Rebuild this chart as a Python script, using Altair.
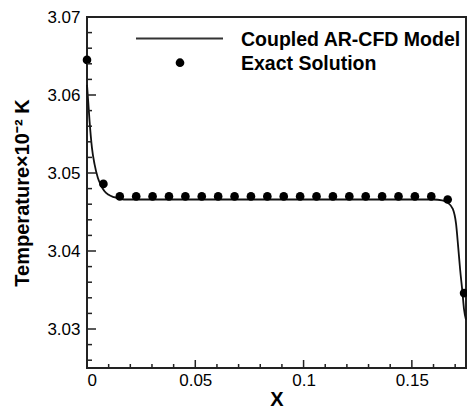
import altair as alt
import pandas as pd

# ---- data ----
line_x = [0.0, 0.0006, 0.0012, 0.0023, 0.0035, 0.005, 0.0065, 0.008, 0.010, 0.0125,
          0.015, 0.017, 0.020, 0.160, 0.164, 0.1665, 0.1689, 0.1704, 0.1714, 0.1723,
          0.1734, 0.1741, 0.175]
line_y = [3.0613, 3.0590, 3.0566, 3.0532, 3.0511, 3.0494, 3.0484, 3.0477, 3.0472, 3.0469,
          3.0467, 3.0466, 3.0466, 3.0466, 3.0465, 3.0462, 3.0454, 3.0435, 3.0405, 3.0376,
          3.0346, 3.0325, 3.0312]

exact_x = [0.0, 0.00757, 0.01514, 0.02271, 0.03028, 0.03785, 0.04542, 0.05299, 0.06056,
           0.06813, 0.0757, 0.08327, 0.09084, 0.09841, 0.10598, 0.11355, 0.12112, 0.12869,
           0.13626, 0.14383, 0.1514, 0.15897, 0.16654, 0.17411]
exact_y = [3.0645, 3.0486, 3.0470, 3.0470, 3.0470, 3.0470, 3.0470, 3.0470, 3.0470,
           3.0470, 3.0470, 3.0470, 3.0470, 3.0470, 3.0470, 3.0470, 3.0470, 3.0470,
           3.0470, 3.0470, 3.0470, 3.0470, 3.0466, 3.0346]

x_major = [0, 0.05, 0.1, 0.15]
x_minor = [0.01, 0.02, 0.03, 0.04, 0.06, 0.07, 0.08, 0.09, 0.11, 0.12, 0.13, 0.14, 0.16, 0.17]
y_major = [3.03, 3.04, 3.05, 3.06, 3.07]
y_minor = [3.026, 3.028, 3.032, 3.034, 3.036, 3.038, 3.042, 3.044, 3.046, 3.048,
           3.052, 3.054, 3.056, 3.058, 3.062, 3.064, 3.066, 3.068]

legend_labels = ["Coupled AR-CFD Model", "Exact Solution"]
x_title = "X"
y_title = "Temperature\u00d710\u207b\u00b2 K"

FONT = "Liberation Sans"
INK = "#222222"
W, H = 379, 351

xscale = alt.Scale(domain=[0, 0.175], nice=False, zero=False)
yscale = alt.Scale(domain=[3.025, 3.07], nice=False, zero=False)

line_df = pd.DataFrame({"x": line_x, "y": line_y})
exact_df = pd.DataFrame({"x": exact_x, "y": exact_y})

x_axis = alt.Axis(values=x_major, format="~g", title=x_title, ticks=False, tickSize=0,
                  domain=False, grid=False, labelFont=FONT, labelFontSize=17,
                  labelColor="black", labelPadding=4, titleFont=FONT, titleFontSize=20,
                  titleFontWeight="bold", titleColor="black", titleY=37,
                  titleBaseline="alphabetic")
y_axis = alt.Axis(values=y_major, format=".2f", title=y_title, ticks=False, tickSize=0,
                  domain=False, grid=False, labelFont=FONT, labelFontSize=17,
                  labelColor="black", labelPadding=7, titleFont=FONT, titleFontSize=20,
                  titleFontWeight="bold", titleColor="black", titleX=-59,
                  titleBaseline="alphabetic")

curve = alt.Chart(line_df).mark_line(color="#111111", strokeWidth=1.8,
                                     interpolate="monotone").encode(
    x=alt.X("x:Q", scale=xscale, axis=x_axis),
    y=alt.Y("y:Q", scale=yscale, axis=y_axis),
)

dots = alt.Chart(exact_df).mark_point(filled=True, color="black", size=75,
                                      opacity=1, shape="circle").encode(
    x=alt.X("x:Q", scale=xscale, axis=x_axis),
    y=alt.Y("y:Q", scale=yscale, axis=y_axis),
)

def yticks(vals, length):
    return alt.Chart(pd.DataFrame({"y": vals})).mark_rule(color=INK, strokeWidth=1.5).encode(
        y=alt.Y("y:Q", scale=yscale, axis=y_axis),
        x=alt.value(0), x2=alt.value(length))

def xticks(vals, length):
    return alt.Chart(pd.DataFrame({"x": vals})).mark_rule(color=INK, strokeWidth=1.5).encode(
        x=alt.X("x:Q", scale=xscale, axis=x_axis),
        y=alt.value(H), y2=alt.value(H - length))

leg_df1 = pd.DataFrame({"label": [legend_labels[0]]})
leg_df2 = pd.DataFrame({"label": [legend_labels[1]]})

leg_line = alt.Chart(leg_df1).mark_rule(color="#333333", strokeWidth=1.8).encode(
    x=alt.value(49), x2=alt.value(136), y=alt.value(21.5))
leg_dot = alt.Chart(leg_df2).mark_point(filled=True, color="black", size=75, opacity=1).encode(
    x=alt.value(93), y=alt.value(45.7))
leg_t1 = alt.Chart(leg_df1).mark_text(align="left", baseline="alphabetic", font=FONT,
                                      fontSize=19.5, fontWeight="bold", color="black").encode(
    text="label:N", x=alt.value(154), y=alt.value(28.7))
leg_t2 = alt.Chart(leg_df2).mark_text(align="left", baseline="alphabetic", font=FONT,
                                      fontSize=19.5, fontWeight="bold", color="black").encode(
    text="label:N", x=alt.value(154), y=alt.value(53))

chart = alt.layer(
    curve, dots,
    yticks(y_major, 9), yticks(y_minor, 5),
    xticks(x_major, 8), xticks(x_minor, 4),
    leg_line, leg_dot, leg_t1, leg_t2,
).properties(
    width=W, height=H,
    background="white",
    autosize=alt.AutoSizeParams(type="none"),
    padding={"left": 79, "top": 9, "right": 1, "bottom": 43},
).configure_view(
    stroke=INK, strokeWidth=2
)

chart.save("out.html", embed_options={"renderer": "svg", "actions": False})
